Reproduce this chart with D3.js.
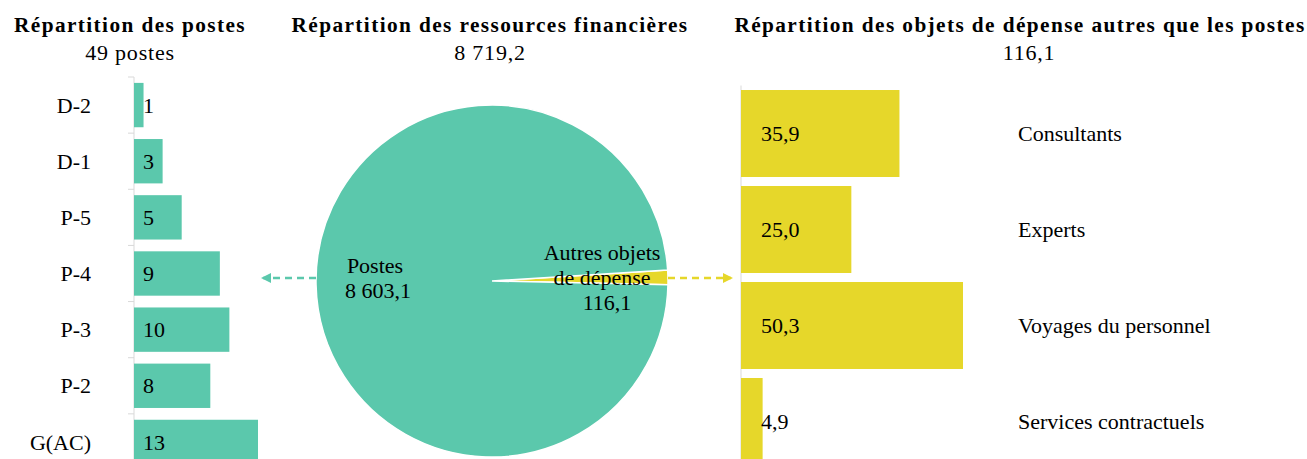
<!DOCTYPE html>
<html>
<head>
<meta charset="utf-8">
<script src="https://cdn.jsdelivr.net/npm/d3@7"></script>
<style>
  body { margin: 0; background: #fff; }
  svg { display: block; }
</style>
</head>
<body>
<svg id="chart" width="1307" height="459" font-family="Liberation Serif, Times New Roman, serif"></svg>
<script>
// --- données ---
const grades = ["D-2", "D-1", "P-5", "P-4", "P-3", "P-2", "G(AC)"];
const gradeCounts = [1, 3, 5, 9, 10, 8, 13];

const pieLabels = ["Autres objets de dépense", "Postes"];
const pieValues = [116.1, 8603.1];

const objets = ["Consultants", "Experts", "Voyages du personnel", "Services contractuels"];
const objetValues = [35.9, 25.0, 50.3, 4.9];

const titles = [
    { t: "Répartition des postes", s: "49 postes" },
    { t: "Répartition des ressources financières", s: "8 719,2" },
    { t: "Répartition des objets de dépense autres que les postes", s: "116,1" }
];

const green = "#5bc8ac";
const yellow = "#e6d72a";
const fs = 22;
const fmt = v => v.toFixed(1).replace(".", ",");

const svg = d3.select("#chart");

// marqueurs de flèches
const defs = svg.append("defs");
[["arrowG", green], ["arrowY", yellow]].forEach(([id, c]) => {
    defs.append("marker").attr("id", id)
        .attr("viewBox", "0 0 10 10").attr("refX", 8).attr("refY", 5)
        .attr("markerWidth", 4).attr("markerHeight", 4).attr("orient", "auto")
        .append("path").attr("d", "M0,0 L10,5 L0,10 Z").attr("fill", c);
});

// --- titres ---
const titleX = [130, 490, 1020];
const subX = [130, 490, 1029];
titles.forEach((d, i) => {
    svg.append("text").attr("x", titleX[i]).attr("y", 32)
        .attr("text-anchor", "middle").attr("font-weight", "bold")
        .attr("font-size", 21.3).attr("letter-spacing", 1.4)
        .text(d.t);
    svg.append("text").attr("x", subX[i]).attr("y", 60)
        .attr("text-anchor", "middle").attr("font-size", fs).attr("letter-spacing", 0.8)
        .text(d.s);
});

// --- barres gauche : postes ---
const xL = d3.scaleLinear().domain([0, 13]).range([134, 258]);
const yL = d3.scaleBand().domain(grades).range([77, 470]).paddingInner(0.21).paddingOuter(0.105);

const gL = svg.append("g");
gL.append("line").attr("x1", 134).attr("x2", 134).attr("y1", 77).attr("y2", 470)
    .attr("stroke", "#d9d9d9");
grades.forEach((g, i) => {
    const yb = yL.range()[0] + i * yL.step();
    gL.append("line").attr("x1", 128).attr("x2", 134).attr("y1", yb).attr("y2", yb)
        .attr("stroke", "#d9d9d9");
});
gL.selectAll(".barL").data(grades).enter().append("rect")
    .attr("x", xL(0)).attr("y", d => yL(d))
    .attr("width", (d, i) => xL(gradeCounts[i]) - xL(0))
    .attr("height", yL.bandwidth()).attr("fill", green);
gL.selectAll(".catL").data(grades).enter().append("text")
    .attr("x", 91).attr("y", d => yL(d) + yL.bandwidth() / 2).attr("dy", "0.35em")
    .attr("text-anchor", "end").attr("font-size", fs).text(d => d);
gL.selectAll(".valL").data(grades).enter().append("text")
    .attr("x", xL(0) + 9).attr("y", d => yL(d) + yL.bandwidth() / 2).attr("dy", "0.35em")
    .attr("font-size", fs).text((d, i) => gradeCounts[i]);

// --- camembert ---
const cx = 492, cy = 281, r = 176;
const start = 86.4 * Math.PI / 180;
const pie = d3.pie().sort(null).startAngle(start).endAngle(start + 2 * Math.PI);
const arcs = pie(pieValues);
const arc = d3.arc().innerRadius(0).outerRadius(r);
const gP = svg.append("g").attr("transform", `translate(${cx},${cy})`);
gP.selectAll("path").data(arcs).enter().append("path")
    .attr("d", arc).attr("fill", (d, i) => i === 0 ? yellow : green)
    .attr("stroke", "#fff").attr("stroke-width", 1.5);

const pl = gP.append("text").attr("text-anchor", "middle").attr("font-size", fs);
pl.append("tspan").attr("x", -117).attr("y", -8).text(pieLabels[1]);
pl.append("tspan").attr("x", -114).attr("y", 17).text("8 603,1");

const al = gP.append("text").attr("text-anchor", "middle").attr("font-size", fs);
al.append("tspan").attr("x", 110).attr("y", -21).text("Autres objets");
al.append("tspan").attr("x", 110).attr("y", 4).text("de dépense");
al.append("tspan").attr("x", 115).attr("y", 29).text(fmt(pieValues[0]));

// flèches
svg.append("line").attr("x1", cx - r).attr("x2", 263).attr("y1", 278).attr("y2", 278)
    .attr("stroke", green).attr("stroke-width", 2.5).attr("stroke-dasharray", "7,5")
    .attr("marker-end", "url(#arrowG)");
svg.append("line").attr("x1", cx + r).attr("x2", 731).attr("y1", 278).attr("y2", 278)
    .attr("stroke", yellow).attr("stroke-width", 2.5).attr("stroke-dasharray", "7,5")
    .attr("marker-end", "url(#arrowY)");

// --- barres droite : objets de dépense ---
const xR = d3.scaleLinear().domain([0, 50.3]).range([741, 963]);
const yR = d3.scaleBand().domain(objets).range([85.5, 469.5]).paddingInner(0.094).paddingOuter(0.047);
const gR = svg.append("g");
gR.append("line").attr("x1", 741).attr("x2", 741).attr("y1", 85.5).attr("y2", 470)
    .attr("stroke", "#d9d9d9");
gR.selectAll(".barR").data(objets).enter().append("rect")
    .attr("x", xR(0)).attr("y", d => yR(d))
    .attr("width", (d, i) => xR(objetValues[i]) - xR(0))
    .attr("height", yR.bandwidth()).attr("fill", yellow);
gR.selectAll(".valR").data(objets).enter().append("text")
    .attr("x", xR(0) + 20).attr("y", d => yR(d) + yR.bandwidth() / 2).attr("dy", "0.35em")
    .attr("font-size", fs).text((d, i) => fmt(objetValues[i]));
gR.selectAll(".catR").data(objets).enter().append("text")
    .attr("x", 1018).attr("y", d => yR(d) + yR.bandwidth() / 2).attr("dy", "0.35em")
    .attr("font-size", fs).text(d => d);
</script>
</body>
</html>
